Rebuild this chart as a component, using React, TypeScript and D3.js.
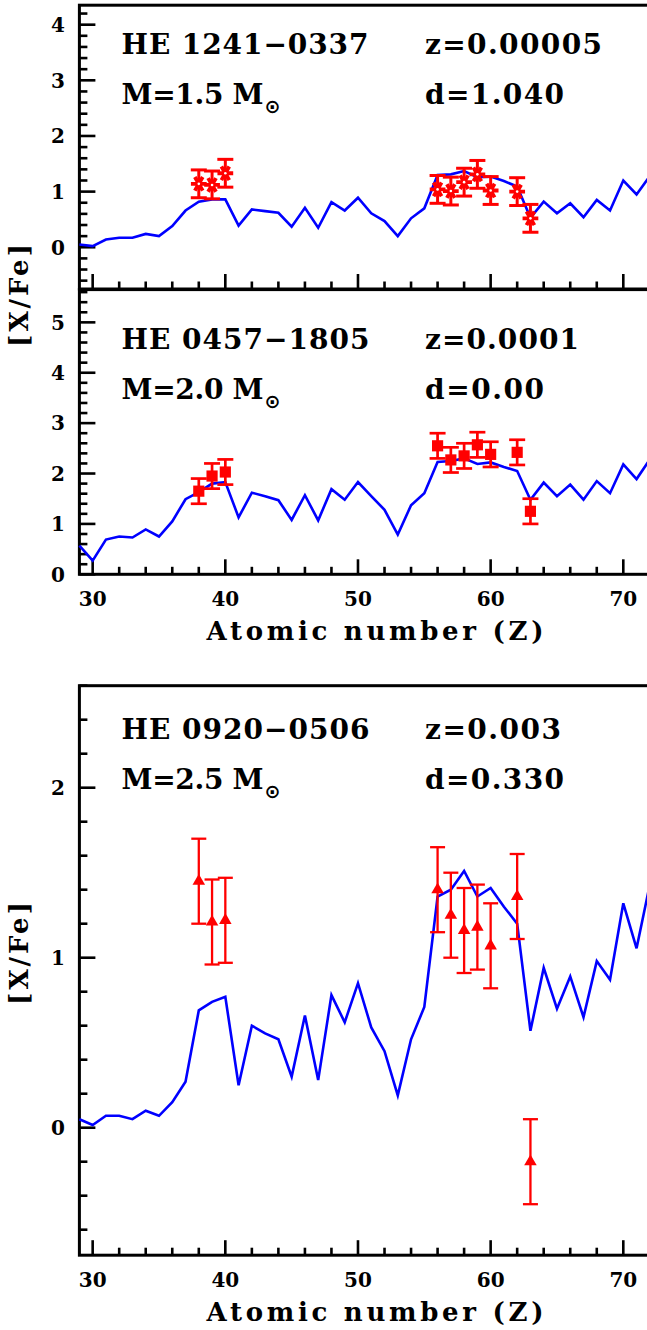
import React from 'react';
import * as d3 from 'd3';

// Atomic numbers of the model curves
const Z_MODEL = [29, 30, 31, 32, 33, 34, 35, 36, 37, 38, 39, 40, 41, 42, 43, 44, 45, 46, 47, 48, 49, 50,
  51, 52, 53, 54, 55, 56, 57, 58, 59, 60, 61, 62, 63, 64, 65, 66, 67, 68, 69, 70, 71, 72];

// Model [X/Fe] predictions
const MODEL_1241 = [0.05, 0.02, 0.14, 0.17, 0.17, 0.24, 0.20, 0.38, 0.66, 0.82, 0.86, 0.86, 0.39, 0.68, 0.65, 0.62,
  0.37, 0.71, 0.35, 0.81, 0.66, 0.89, 0.61, 0.47, 0.20, 0.52, 0.70, 1.30, 1.31, 1.37, 1.26, 1.27, 1.19, 1.09,
  0.53, 0.82, 0.61, 0.79, 0.54, 0.85, 0.66, 1.20, 0.95, 1.28];
const MODEL_0457 = [0.57, 0.27, 0.69, 0.75, 0.73, 0.89, 0.75, 1.05, 1.49, 1.63, 1.80, 1.83, 1.13, 1.62, 1.55, 1.47,
  1.08, 1.57, 1.07, 1.69, 1.48, 1.83, 1.55, 1.28, 0.79, 1.37, 1.61, 2.23, 2.25, 2.30, 2.19, 2.22, 2.13, 2.05,
  1.48, 1.82, 1.55, 1.78, 1.48, 1.85, 1.61, 2.18, 1.89, 2.28];
const MODEL_0920 = [0.05, 0.016, 0.07, 0.07, 0.05, 0.10, 0.07, 0.15, 0.27, 0.69, 0.74, 0.77, 0.25, 0.60, 0.555, 0.52,
  0.30, 0.66, 0.28, 0.78, 0.62, 0.85, 0.59, 0.45, 0.19, 0.52, 0.71, 1.36, 1.40, 1.51, 1.36, 1.41, 1.30, 1.20,
  0.57, 0.94, 0.70, 0.89, 0.65, 0.98, 0.87, 1.32, 1.055, 1.43];

// Observed abundances
const Z_OBS = [38, 39, 40, 56, 57, 58, 59, 60, 62, 63];
const OBS_1241 = [1.14, 1.12, 1.33, 1.04, 1.01, 1.17, 1.31, 1.02, 1.00, 0.52];
const ERR_1241 = [0.25, 0.25, 0.25, 0.25, 0.25, 0.25, 0.25, 0.25, 0.25, 0.25];
const OBS_0457 = [1.65, 1.95, 2.03, 2.55, 2.27, 2.35, 2.57, 2.38, 2.42, 1.25];
const ERR_0457 = [0.25, 0.25, 0.25, 0.25, 0.25, 0.25, 0.25, 0.25, 0.25, 0.25];
const OBS_0920 = [1.45, 1.21, 1.22, 1.40, 1.25, 1.16, 1.18, 1.07, 1.36, -0.20];
const ERR_0920 = [0.25, 0.25, 0.25, 0.25, 0.25, 0.25, 0.25, 0.25, 0.25, 0.25];

// Axis tick labels
const X_TICKS = [30, 40, 50, 60, 70];
const Y_TICKS_1241 = [0, 1, 2, 3, 4];
const Y_TICKS_0457 = [0, 1, 2, 3, 4, 5];
const Y_TICKS_0920 = [0, 1, 2];

const FONT = "'DejaVu Serif', serif";
const BLUE = '#0000ff';
const RED = '#ff0000';

const x = d3.scaleLinear().domain([29, 73]).range([79.4, 663.1]);

type Marker = 'star' | 'square' | 'triangle';

interface PanelProps {
  top: number;
  bottom: number;
  base1: number;
  domain: [number, number];
  yTicks: number[];
  model: number[];
  obs: number[];
  err: number[];
  marker: Marker;
  star: string;
  mass: string;
  z: string;
  d: string;
  widths: { star: number; mass: number; z: number; d: number };
  xLabels: boolean;
  capW: number;
  barW: number;
}

function minorTicks(lo: number, hi: number, step: number) {
  const out: number[] = [];
  for (let k = Math.ceil(lo / step - 1e-9); k <= Math.floor(hi / step + 1e-9); k++) {
    const v = +(k * step).toFixed(6);
    if (Math.abs(v - Math.round(v)) > 1e-6 || step >= 1) out.push(v);
  }
  return out;
}

function Panel(p: PanelProps) {
  const y = d3.scaleLinear().domain(p.domain).range([p.bottom, p.top]);
  const left = x.range()[0];
  const right = x.range()[1];
  const line = d3.line<number>().x((_, i) => x(Z_MODEL[i])).y((v) => y(v));
  const yMinor = minorTicks(p.domain[0], p.domain[1], 0.2);
  const xMinor = minorTicks(29, 73, 2).filter((v) => v % 10 !== 0);

  let symbolPath = '';
  if (p.marker === 'star') symbolPath = d3.symbol().type(d3.symbolAsterisk).size(175)() || '';
  if (p.marker === 'square') symbolPath = d3.symbol().type(d3.symbolSquare).size(125)() || '';
  if (p.marker === 'triangle') symbolPath = d3.symbol().type(d3.symbolTriangle).size(68)() || '';

  const base1 = p.base1;
  const base2 = base1 + 50.7;

  return (
    <g>
      {/* frame */}
      <rect x={left} y={p.top} width={right - left} height={p.bottom - p.top}
        fill="none" stroke="#000" strokeWidth={3} />
      {/* y ticks */}
      {p.yTicks.map((v) => (
        <line key={'ym' + v} x1={left} x2={left + 16} y1={y(v)} y2={y(v)} stroke="#000" strokeWidth={2.6} />
      ))}
      {yMinor.map((v) => (
        <line key={'yn' + v} x1={left} x2={left + 8} y1={y(v)} y2={y(v)} stroke="#000" strokeWidth={2.6} />
      ))}
      {p.yTicks.map((v) => (
        <text key={'yl' + v} x={65} y={y(v) + 7.3} textAnchor="end" fontFamily={FONT}
          fontWeight="bold" fontSize={20}>{v}</text>
      ))}
      {/* x ticks */}
      {X_TICKS.map((v) => (
        <line key={'xm' + v} x1={x(v)} x2={x(v)} y1={p.bottom} y2={p.bottom - 15} stroke="#000" strokeWidth={2.6} />
      ))}
      {xMinor.map((v) => (
        <line key={'xn' + v} x1={x(v)} x2={x(v)} y1={p.bottom} y2={p.bottom - 7.5} stroke="#000" strokeWidth={2.6} />
      ))}
      {p.xLabels && X_TICKS.map((v) => (
        <text key={'xl' + v} x={x(v)} y={p.bottom + 31.5} textAnchor="middle" fontFamily={FONT}
          fontWeight="bold" fontSize={20}>{v}</text>
      ))}
      {/* model curve */}
      <path d={line(p.model) || ''} fill="none" stroke={BLUE} strokeWidth={2.6} strokeLinejoin="miter" />
      {/* observations */}
      {Z_OBS.map((zv, i) => {
        const cx = x(zv);
        const v = p.obs[i];
        const e = p.err[i];
        return (
          <g key={'o' + zv} stroke={RED} strokeWidth={p.barW}>
            <line x1={cx} x2={cx} y1={y(v - e)} y2={y(v + e)} />
            <line x1={cx - p.capW / 2} x2={cx + p.capW / 2} y1={y(v - e)} y2={y(v - e)} />
            <line x1={cx - p.capW / 2} x2={cx + p.capW / 2} y1={y(v + e)} y2={y(v + e)} />
            {p.marker === 'star' ? (
              <g transform={`translate(${cx},${y(v)})`}>
                <path d={symbolPath} transform="rotate(90)" stroke={RED} strokeWidth={3.8} fill="none" />
                <circle r={1.3} fill="#fff" stroke="none" />
              </g>
            ) : (
              <path d={symbolPath} transform={`translate(${cx},${y(v)})`} fill={RED} stroke="none" />
            )}
          </g>
        );
      })}
      {/* annotations */}
      <g fontFamily={FONT} fontWeight="bold" fontSize={28} fill="#000">
        <text x={121.5} y={base1} textLength={p.widths.star} lengthAdjust="spacing">{p.star}</text>
        <text x={121.5} y={base2} textLength={p.widths.mass} lengthAdjust="spacing">{p.mass}</text>
        <text x={425} y={base1} textLength={p.widths.z} lengthAdjust="spacing">{p.z}</text>
        <text x={425} y={base2} textLength={p.widths.d} lengthAdjust="spacing">{p.d}</text>
      </g>
      <text x={272.5} y={base2 + 9} textAnchor="middle" fontFamily="'DejaVu Sans', sans-serif"
        fontWeight="bold" fontSize={19}>⊙</text>
    </g>
  );
}

export default function App() {
  return (
    <svg width={647} height={1330} viewBox="0 0 647 1330"
      style={{ position: 'absolute', left: 0, top: 0, background: '#fff' }}>
      <rect x={0} y={0} width={647} height={1330} fill="#fff" />
      <Panel top={5.2} bottom={289} base1={53.5} domain={[-0.75, 4.35]} yTicks={Y_TICKS_1241}
        model={MODEL_1241} obs={OBS_1241} err={ERR_1241} marker="star"
        star="HE 1241−0337" mass="M=1.5 M" z="z=0.00005" d="d=1.040"
        widths={{ star: 247, mass: 142, z: 177, d: 139 }} xLabels={false} capW={16} barW={3} />
      <Panel top={289.6} bottom={574.3} base1={348.5} domain={[0, 5.65]} yTicks={Y_TICKS_0457}
        model={MODEL_0457} obs={OBS_0457} err={ERR_0457} marker="square"
        star="HE 0457−1805" mass="M=2.0 M" z="z=0.0001" d="d=0.00"
        widths={{ star: 248, mass: 142, z: 154, d: 119 }} xLabels={true} capW={16} barW={2.7} />
      <Panel top={685.7} bottom={1255.2} base1={738.5} domain={[-0.75, 2.6]} yTicks={Y_TICKS_0920}
        model={MODEL_0920} obs={OBS_0920} err={ERR_0920} marker="triangle"
        star="HE 0920−0506" mass="M=2.5 M" z="z=0.003" d="d=0.330"
        widths={{ star: 248, mass: 142, z: 136, d: 139 }} xLabels={true} capW={15} barW={2.3} />
      {/* axis titles */}
      <g fontFamily={FONT} fontWeight="bold" fontSize={26}>
        <text x={206.5} y={640} textLength={337} lengthAdjust="spacing">Atomic number (Z)</text>
        <text x={206.5} y={1321} textLength={337} lengthAdjust="spacing">Atomic number (Z)</text>
        <text transform="translate(28,294) rotate(-90)" textAnchor="middle" letterSpacing={3}>[X/Fe]</text>
        <text transform="translate(28,952) rotate(-90)" textAnchor="middle" letterSpacing={3}>[X/Fe]</text>
      </g>
    </svg>
  );
}
